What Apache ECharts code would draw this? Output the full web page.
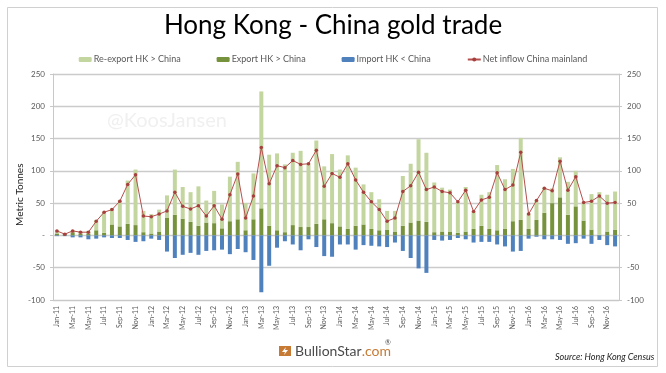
<!DOCTYPE html>
<html>
<head>
<meta charset="utf-8">
<title>Hong Kong - China gold trade</title>
<script src="https://cdn.jsdelivr.net/npm/echarts@6/dist/echarts.min.js"></script>
<style>
	html,body{margin:0;padding:0;background:#fff;}
	#chart{width:666px;height:373px;}
</style>
</head>
<body>
<div id="chart"></div>
<script>
var categories = [
	'Jan-11','Feb-11','Mar-11','Apr-11','May-11','Jun-11','Jul-11','Aug-11','Sep-11','Oct-11','Nov-11','Dec-11',
	'Jan-12','Feb-12','Mar-12','Apr-12','May-12','Jun-12','Jul-12','Aug-12','Sep-12','Oct-12','Nov-12','Dec-12',
	'Jan-13','Feb-13','Mar-13','Apr-13','May-13','Jun-13','Jul-13','Aug-13','Sep-13','Oct-13','Nov-13','Dec-13',
	'Jan-14','Feb-14','Mar-14','Apr-14','May-14','Jun-14','Jul-14','Aug-14','Sep-14','Oct-14','Nov-14','Dec-14',
	'Jan-15','Feb-15','Mar-15','Apr-15','May-15','Jun-15','Jul-15','Aug-15','Sep-15','Oct-15','Nov-15','Dec-15',
	'Jan-16','Feb-16','Mar-16','Apr-16','May-16','Jun-16','Jul-16','Aug-16','Sep-16','Oct-16','Nov-16','Dec-16'
];
var exportHK = [
	3,2,5,3,3,8,4,17,14,18,16,5,
	3,6,27,32,26,21,15,20,19,11,22,25,
	8,25,42,15,8,5,16,13,13,18,25,19,
	14,10,15,17,10,8,9,6,15,20,23,21,
	5,6,6,4,6,10,15,10,8,10,22,24,
	10,24,35,50,59,32,45,23,9,1,6,9
];
var reExport = [
	5,1,3,3,4,16,33,25,41,67,86,33,
	30,34,35,70,49,46,61,34,50,37,69,89,
	42,71,181,110,119,105,112,118,98,129,82,107,
	88,114,90,62,57,48,29,32,77,91,126,107,
	77,68,65,48,69,28,48,57,101,77,81,127,
	24,30,39,23,62,51,55,28,55,66,57,59
];
var importHK = [
	-1,-1,-3,-3,-6,-5,-3,-4,-4,-7,-10,-9,
	-5,-7,-25,-35,-30,-27,-30,-24,-23,-22,-29,-21,
	-26,-38,-88,-47,-19,-9,-14,-23,-6,-18,-32,-33,
	-14,-14,-22,-15,-16,-17,-18,-11,-24,-35,-51,-58,
	-7,-8,-7,-4,-6,-11,-10,-10,-14,-17,-25,-24,
	-5,-2,-6,-6,-7,-13,-12,-5,-13,-7,-15,-17
];
var netInflow = [
	7,2,7,5,5,22,36,40,53,79,94,30,
	29,33,38,67,45,41,46,30,46,25,63,95,
	27,61,136,80,108,105,116,110,111,132,76,96,
	90,111,86,67,52,40,22,27,68,77,98,71,
	75,68,66,52,70,37,55,59,97,71,78,129,
	33,54,73,69,115,70,91,51,53,61,50,51
];
var yTicks = {min:-100, max:250, interval:50};

var fontName = 'Lato';
var gray = '#595959';

function yLabel(v){
	return v === 0 ? '-' : v;
}

var myChart = echarts.init(document.getElementById('chart'));
myChart.setOption({
	animation:false,
	backgroundColor:'#fff',
	textStyle:{fontFamily:fontName},
	title:{
		text:'Hong Kong - China gold trade',
		left:'center',
		top:8,
		textStyle:{fontSize:26,fontWeight:'normal',color:'#000',fontFamily:fontName}
	},
	legend:{
		top:50,
		left:'center',
		itemGap:36,
		itemWidth:13,
		itemHeight:5,
		data:['Re-export HK > China','Export HK > China','Import HK < China','Net inflow China mainland'],
		textStyle:{fontSize:9,color:gray,padding:[0,0,0,-3]}
	},
	grid:{left:53,right:47,top:74,bottom:73},
	xAxis:{
		type:'category',
		data:categories,
		axisLine:{onZero:false,lineStyle:{color:'#c8c8c8',width:1}},
		axisTick:{show:false},
		axisLabel:{interval:1,rotate:90,fontSize:7,color:gray,margin:6}
	},
	yAxis:[
		{
			type:'value',
			min:yTicks.min,max:yTicks.max,interval:yTicks.interval,
			axisLine:{show:true,lineStyle:{color:'#c8c8c8'}},
			axisTick:{show:true,length:3,lineStyle:{color:'#c8c8c8'}},
			axisLabel:{formatter:yLabel,fontSize:8,color:gray,margin:8},
			splitLine:{show:true,lineStyle:{color:'#cbcbcb',width:1.3}}
		},
		{
			type:'value',
			position:'right',
			min:yTicks.min,max:yTicks.max,interval:yTicks.interval,
			axisLine:{show:true,lineStyle:{color:'#c8c8c8'}},
			axisTick:{show:true,length:3,lineStyle:{color:'#c8c8c8'}},
			axisLabel:{formatter:yLabel,fontSize:8,color:gray,margin:8},
			splitLine:{show:false}
		}
	],
	series:[
		{name:'Export HK > China',type:'bar',stack:'trade',barWidth:4,data:exportHK,itemStyle:{color:'#76923c'}},
		{name:'Re-export HK > China',type:'bar',stack:'trade',barWidth:4,data:reExport,itemStyle:{color:'#c4d6a0'}},
		{name:'Import HK < China',type:'bar',stack:'trade',barWidth:4,data:importHK,itemStyle:{color:'#4f81bd'}},
		{
			name:'Net inflow China mainland',
			type:'line',
			data:netInflow,
			symbol:'circle',
			symbolSize:3.5,
			lineStyle:{color:'#b5504e',width:1},
			itemStyle:{color:'#a5403e'},
			z:5
		}
	],
	graphic:[
		{type:'rect',shape:{x:7.5,y:7.5,width:650,height:359},style:{fill:'none',stroke:'#d0d0d0',lineWidth:1},silent:true},
		{type:'text',x:107,y:111,style:{text:'@KoosJansen',fontSize:20,fill:'#f0f0f0',fontFamily:fontName},z:0},
		{type:'text',x:15,y:226,rotation:Math.PI/2,style:{text:'Metric Tonnes',fontSize:10,fill:'#222',fontFamily:fontName}},
		{type:'text',x:555,y:353,style:{text:'Source: Hong Kong Census',fontSize:9,fontStyle:'italic',fill:'#222',fontFamily:fontName}},
		{type:'rect',shape:{x:279,y:346,width:12,height:10},style:{fill:'#c77a33'}},
		{type:'polygon',shape:{points:[[286,347],[282,352],[285,352],[284,355],[288,350],[285,350]]},style:{fill:'#fff'}},
		{
			type:'text',x:295,y:344,
			style:{
				rich:{
					a:{fontSize:14,fill:'#4a4a4a',fontFamily:fontName},
					b:{fontSize:14,fill:'#c77a33',fontFamily:fontName}
				},
				text:'{a|BullionStar}{b|.com}'
			}
		},
		{type:'text',x:385,y:339,style:{text:'®',fontSize:7,fill:'#4a4a4a',fontFamily:fontName}}
	]
});
</script>
</body>
</html>
